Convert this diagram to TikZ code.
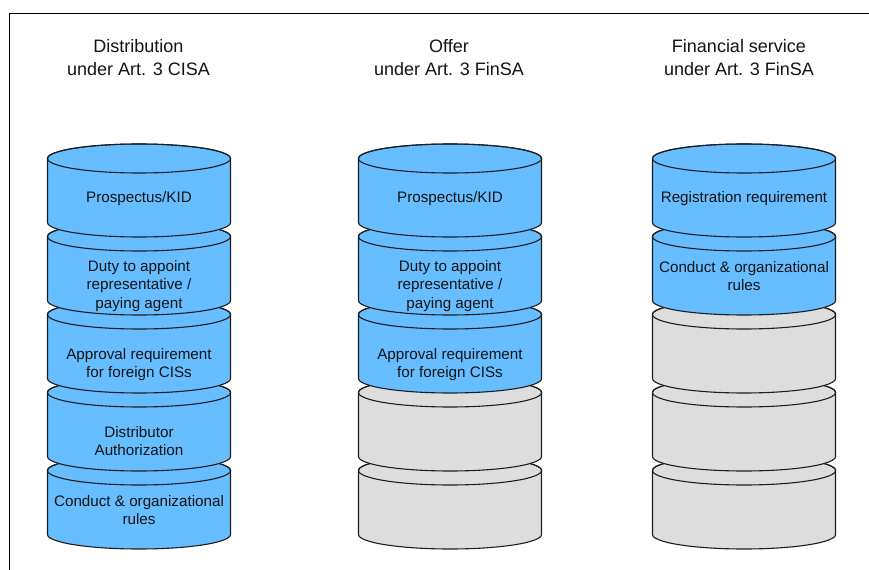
\documentclass[tikz,border=0pt]{standalone}
\usepackage{fontspec}
\setmainfont{Liberation Sans}
\definecolor{drumblue}{RGB}{102,189,255}
\definecolor{drumgrey}{RGB}{221,221,221}
\definecolor{inkline}{RGB}{30,30,30}
\definecolor{inktext}{RGB}{20,20,20}
\tikzset{
  drumline/.style={draw=inkline, line width=1.1bp, line join=round},
  frameline/.style={draw=black, line width=1.5bp},
  drumtext/.style={align=center, text=inktext, inner sep=0pt, font=\fontsize{15.2bp}{18.5bp}\selectfont},
  headtext/.style={align=center, text=inktext, inner sep=0pt, font=\fontsize{18bp}{22.5bp}\selectfont}
}
% #1 centre x, #2 top y (pixels from top), #3 fill colour, #4 coordinate name
\newcommand\drumshape[4]{%
  \path[drumline, fill=#3] (#1-91.5, -#2-14.5) -- (#1-91.5, -#2-78.5)
    arc[start angle=180, end angle=360, x radius=91.5bp, y radius=14.5bp]
    -- (#1+91.5, -#2-14.5)
    arc[start angle=0, end angle=180, x radius=91.5bp, y radius=14.5bp] -- cycle;
  \draw[drumline] (#1, -#2-14.5) ellipse [x radius=91.5bp, y radius=14.5bp];
  \coordinate (#4) at (#1, -#2-46.5);
}
\begin{document}
\begin{tikzpicture}[x=1bp, y=1bp]
\useasboundingbox (0,0) rectangle (869,-570);
\fill[white] (0,0) rectangle (869,-570);
% frame
\coordinate (fA) at (9.5,-570);
\coordinate (fB) at (9.5,-13.5);
\coordinate (fC) at (869,-13.5);
\draw[frameline] (fA) -- (fB) -- (fC);

% column 1
\drumshape{139}{456}{drumblue}{a5}
\drumshape{139}{378}{drumblue}{a4}
\drumshape{139}{300}{drumblue}{a3}
\drumshape{139}{222}{drumblue}{a2}
\drumshape{139}{144}{drumblue}{a1}
% column 2
\drumshape{450}{456}{drumgrey}{b5}
\drumshape{450}{378}{drumgrey}{b4}
\drumshape{450}{300}{drumblue}{b3}
\drumshape{450}{222}{drumblue}{b2}
\drumshape{450}{144}{drumblue}{b1}
% column 3
\drumshape{744}{456}{drumgrey}{c5}
\drumshape{744}{378}{drumgrey}{c4}
\drumshape{744}{300}{drumgrey}{c3}
\drumshape{744}{222}{drumblue}{c2}
\drumshape{744}{144}{drumblue}{c1}

% headings
\node[headtext] (h1) at (138.5,-57.5) {Distribution\\under Art. 3 CISA};
\node[headtext] (h2) at (449,-57.5) {Offer\\under Art. 3 FinSA};
\node[headtext] (h3) at (739,-57.5) {Financial service\\under Art. 3 FinSA};

% texts column 1
\node[drumtext] (t11) at (139,-199) {Prospectus/KID};
\node[drumtext] (t12) at (139,-286) {Duty to appoint\\representative /\\paying agent};
\node[drumtext] (t13) at (139,-364.5) {Approval requirement\\for foreign CISs};
\node[drumtext] (t14) at (139,-441) {Distributor\\Authorization};
\node[drumtext] (t15) at (139,-510) {Conduct \& organizational\\rules};
% texts column 2
\node[drumtext] (t21) at (450,-199) {Prospectus/KID};
\node[drumtext] (t22) at (450,-286) {Duty to appoint\\representative /\\paying agent};
\node[drumtext] (t23) at (450,-364.5) {Approval requirement\\for foreign CISs};
% texts column 3
\node[drumtext] (t31) at (744,-199) {Registration requirement};
\node[drumtext] (t32) at (744,-276) {Conduct \& organizational\\rules};
\end{tikzpicture}
\end{document}
